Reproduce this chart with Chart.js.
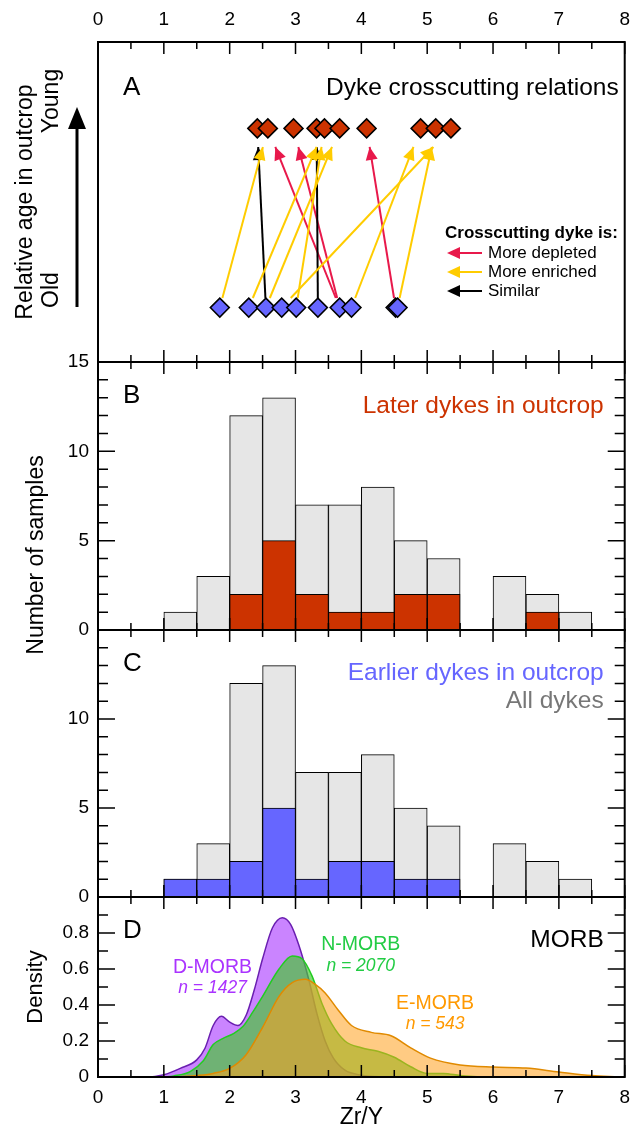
<!DOCTYPE html>
<html>
<head>
<meta charset="utf-8">
<script src="https://cdn.jsdelivr.net/npm/chart.js@4.4.1/dist/chart.umd.min.js"></script>
<style>
  html, body { margin: 0; padding: 0; background: #fff; }
  #wrap { width: 641px; height: 1132px; }
</style>
</head>
<body>
<div id="wrap"><canvas id="c" width="641" height="1132"></canvas></div>
<script>
// ---- panel A: Zr/Y of dykes in crosscutting pairs
const laterZrY   = [2.42, 2.58, 2.97, 3.32, 3.44, 3.67, 4.08, 4.90, 5.13, 5.36];
const earlierZrY = [1.85, 2.29, 2.55, 2.79, 3.01, 3.34, 3.67, 3.85, 4.52, 4.55];
// each arrow: earlier dyke (index) -> later dyke (index)
const arrowFrom = [0, 1, 2, 2, 3, 4, 5, 6, 6, 7, 8, 9];
const arrowTo   = [1, 4, 0, 5, 9, 4, 3, 1, 2, 7, 6, 8];
const arrowKind = ['enr', 'enr', 'sim', 'enr', 'enr', 'enr', 'sim', 'dep', 'dep', 'enr', 'dep', 'enr'];

// ---- panels B, C: histograms (bin width 0.5)
const binCentres   = [1.25, 1.75, 2.25, 2.75, 3.25, 3.75, 4.25, 4.75, 5.25, 5.75, 6.25, 6.75, 7.25];
const allDykes     = [1, 3, 12, 13, 7, 7, 8, 5, 4, 0, 3, 2, 1];
const laterDykes   = [0, 0, 2, 5, 2, 1, 1, 2, 2, 0, 0, 1, 0];
const earlierDykes = [1, 1, 2, 5, 1, 2, 2, 1, 1, 0, 0, 0, 0];

// ---- panel D: MORB density curves
const dmorbX = [0.8, 1.0, 1.25, 1.5, 1.625, 1.75, 1.875, 2.0, 2.125, 2.25, 2.375, 2.5, 2.65, 2.8, 2.925, 3.05, 3.2, 3.325, 3.45, 3.575, 3.75, 4.0, 4.4];
const dmorbY = [0, 0.012, 0.048, 0.095, 0.16, 0.286, 0.337, 0.305, 0.286, 0.343, 0.486, 0.657, 0.829, 0.885, 0.848, 0.733, 0.543, 0.352, 0.2, 0.105, 0.038, 0.01, 0];
const nmorbX = [1.0, 1.15, 1.4, 1.6, 1.75, 1.9, 2.05, 2.2, 2.35, 2.5, 2.75, 2.95, 3.1, 3.25, 3.4, 3.55, 3.75, 4.0, 4.25, 4.5, 4.75, 5.0, 5.25, 5.5, 5.8];
const nmorbY = [0, 0.006, 0.03, 0.09, 0.18, 0.215, 0.24, 0.28, 0.36, 0.448, 0.6, 0.672, 0.657, 0.562, 0.41, 0.295, 0.2, 0.162, 0.143, 0.11, 0.057, 0.02, 0.02, 0.008, 0];
const emorbX = [1.2, 1.5, 1.75, 2.0, 2.25, 2.5, 2.75, 2.95, 3.15, 3.3, 3.45, 3.65, 3.85, 4.15, 4.45, 4.75, 5.05, 5.5, 6.0, 6.5, 7.0, 7.5, 7.9];
const emorbY = [0, 0.008, 0.02, 0.048, 0.124, 0.276, 0.448, 0.524, 0.543, 0.514, 0.467, 0.371, 0.286, 0.248, 0.229, 0.162, 0.105, 0.067, 0.055, 0.05, 0.028, 0.008, 0];

const xTickLabels = [0, 1, 2, 3, 4, 5, 6, 7, 8];

const FONT = "'Liberation Sans', Arial, sans-serif";
const RED = '#cc3300', BLUE = '#6666ff', GREY = '#e6e6e6';
const ARROW_COLORS = { dep: '#e8194b', enr: '#ffcc00', sim: '#000000' };
const OLD_Y = 1.7, YOUNG_Y = 7.3;          // rows on the 0-10 axis of panel A
const TRIM_START = 0.3, TRIM_END = 0.58;  // keep arrows off the diamonds

const arrowSets = arrowFrom.map((fi, k) => {
  const x0 = earlierZrY[fi], x1 = laterZrY[arrowTo[k]];
  const span = YOUNG_Y - OLD_Y;
  const t0 = TRIM_START / span, t1 = 1 - TRIM_END / span;
  return {
    type: 'line', xAxisID: 'x', yAxisID: 'yA', arrow: true,
    data: [
      { x: x0 + (x1 - x0) * t0, y: OLD_Y + TRIM_START },
      { x: x0 + (x1 - x0) * t1, y: YOUNG_Y - TRIM_END }
    ],
    borderColor: ARROW_COLORS[arrowKind[k]], borderWidth: 2, pointRadius: 0, fill: false
  };
});

const toPts = (xs, ys) => xs.map((x, i) => ({ x, y: ys[i] }));
const toBars = vals => binCentres.map((x, i) => ({ x, y: vals[i] ? vals[i] : null }));

const barStyle = {
  type: 'bar', xAxisID: 'x', borderColor: '#000', borderWidth: 1, borderSkipped: false,
  grouped: false, barPercentage: 1, categoryPercentage: 1
};
const curveStyle = {
  type: 'line', xAxisID: 'x', yAxisID: 'yD', fill: 'origin', borderWidth: 1.5,
  pointRadius: 0, cubicInterpolationMode: 'monotone'
};

// first dataset is drawn on top
const datasets = [
  { type: 'scatter', xAxisID: 'x', yAxisID: 'yA', data: laterZrY.map(x => ({ x, y: YOUNG_Y })),
    pointStyle: 'rectRot', pointRadius: 9.5, backgroundColor: RED, borderColor: '#000', borderWidth: 1.5 },
  { type: 'scatter', xAxisID: 'x', yAxisID: 'yA', data: earlierZrY.map(x => ({ x, y: OLD_Y })),
    pointStyle: 'rectRot', pointRadius: 9.5, backgroundColor: BLUE, borderColor: '#000', borderWidth: 1.5 },
  ...arrowSets,
  { ...barStyle, yAxisID: 'yB', data: toBars(laterDykes), backgroundColor: RED },
  { ...barStyle, yAxisID: 'yB', data: toBars(allDykes), backgroundColor: GREY },
  { ...barStyle, yAxisID: 'yC', data: toBars(earlierDykes), backgroundColor: BLUE },
  { ...barStyle, yAxisID: 'yC', data: toBars(allDykes), backgroundColor: GREY },
  { ...curveStyle, data: toPts(emorbX, emorbY), borderColor: '#e08a00', backgroundColor: 'rgba(255,160,30,0.55)' },
  { ...curveStyle, data: toPts(nmorbX, nmorbY), borderColor: '#22cc22', backgroundColor: 'rgba(70,200,50,0.68)' },
  { ...curveStyle, data: toPts(dmorbX, dmorbY), borderColor: '#6a1fb0', backgroundColor: 'rgba(180,80,255,0.7)' }
];

const tickFont = { family: FONT, size: 19 };
const yScale = (weight, stackWeight, extra) => Object.assign({
  type: 'linear', position: 'left', stack: 'panels', weight, stackWeight,
  grid: { display: false, drawTicks: false }, border: { display: false },
  afterFit: s => { s.width = 98; }
}, extra);
const xScale = (position, height, padding) => ({
  type: 'linear', position, min: 0, max: 8, offset: false,
  grid: { display: false, drawTicks: false }, border: { display: false },
  ticks: { stepSize: 1, padding, color: '#000', font: tickFont, autoSkip: false,
    callback: v => xTickLabels.includes(v) ? String(v) : '' },
  afterFit: s => { s.height = height; }
});

// inward tick marks for each panel
const panelTicks = { yA: null, yB: { minor: 1, major: 5 }, yC: { minor: 1, major: 5 }, yD: { minor: 0.1, major: 0.2 } };

const framesPlugin = {
  id: 'frames',
  afterDatasetDraw(chart, args) {
    const ds = chart.data.datasets[args.index];
    if (!ds.arrow) return;
    const [p0, p1] = args.meta.data;
    drawHead(chart.ctx, p0.x, p0.y, p1.x, p1.y, ds.borderColor, 13, 6);
  },
  afterDatasetsDraw(chart) {
    const { ctx, chartArea: ca, scales } = chart;
    const x = scales.x;
    ctx.save();
    ctx.strokeStyle = '#000';
    ['yA', 'yB', 'yC', 'yD'].forEach(id => {
      const s = scales[id];
      ctx.lineWidth = 1.5;
      ctx.beginPath();
      for (let i = 0; i <= 16; i++) {
        const px = x.getPixelForValue(i * 0.5);
        const len = i % 2 === 0 ? 12 : 7;
        ctx.moveTo(px, s.top); ctx.lineTo(px, s.top + len);
        ctx.moveTo(px, s.bottom); ctx.lineTo(px, s.bottom - len);
      }
      const t = panelTicks[id];
      if (t) {
        const n = Math.round((s.max - s.min) / t.minor);
        const every = Math.round(t.major / t.minor);
        for (let i = 0; i <= n; i++) {
          const py = s.getPixelForValue(s.min + i * t.minor);
          const len = i % every === 0 ? 17 : 10;
          ctx.moveTo(ca.left, py); ctx.lineTo(ca.left + len, py);
          ctx.moveTo(ca.right, py); ctx.lineTo(ca.right - len, py);
        }
      }
      ctx.stroke();
      ctx.lineWidth = 2;
      ctx.strokeRect(ca.left, s.top, ca.right - ca.left, s.bottom - s.top);
    });
    ctx.restore();
  },
  afterDraw(chart) {
    const { ctx, chartArea: ca, scales } = chart;
    const { x, yA, yB, yC, yD } = scales;
    const text = (str, px, py, opts = {}) => {
      ctx.save();
      ctx.font = `${opts.style || ''} ${opts.weight || ''} ${opts.size || 24}px ${FONT}`;
      ctx.fillStyle = opts.color || '#000';
      ctx.textAlign = opts.align || 'left';
      ctx.textBaseline = 'middle';
      ctx.translate(px, py);
      if (opts.rotate) ctx.rotate(-Math.PI / 2);
      ctx.fillText(str, 0, 0);
      ctx.restore();
    };
    const letterX = ca.left + 25;
    const rightX = ca.right - 21;
    const axisTitle = { rotate: true, align: 'center', size: 23 };

    // panel A
    text('A', letterX, yA.top + 46, { size: 26 });
    text('Dyke crosscutting relations', ca.right - 6, yA.top + 46, { align: 'right', size: 24.5 });
    text('Crosscutting dyke is:', 445, 233, { size: 17, weight: 'bold' });
    [['More depleted', 'dep'], ['More enriched', 'enr'], ['Similar', 'sim']].forEach(([label, kind], i) => {
      const py = 253 + i * 19;
      ctx.save();
      ctx.strokeStyle = ARROW_COLORS[kind];
      ctx.lineWidth = 2;
      ctx.beginPath(); ctx.moveTo(482, py); ctx.lineTo(452, py); ctx.stroke();
      ctx.restore();
      drawHead(ctx, 482, py, 447, py, ARROW_COLORS[kind], 13, 6);
      text(label, 488, py, { size: 17 });
    });
    // age arrow on the left
    const midA = (yA.top + yA.bottom) / 2;
    text('Relative age in outcrop', 26, midA, axisTitle);
    text('Young', 52, 101, axisTitle);
    text('Old', 52, 290, axisTitle);
    ctx.save();
    ctx.strokeStyle = '#000'; ctx.lineWidth = 3;
    ctx.beginPath(); ctx.moveTo(77, 307); ctx.lineTo(77, 125); ctx.stroke();
    ctx.restore();
    drawHead(ctx, 77, 307, 77, 107, '#000', 22, 9);

    // panels B, C
    text('B', letterX, yB.top + 34, { size: 26 });
    text('Later dykes in outcrop', rightX, yB.top + 44, { align: 'right', size: 24.5, color: RED });
    text('C', letterX, yC.top + 34, { size: 26 });
    text('Earlier dykes in outcrop', rightX, yC.top + 43, { align: 'right', size: 24.5, color: BLUE });
    text('All dykes', rightX, yC.top + 71, { align: 'right', size: 24.5, color: '#777777' });
    text('Number of samples', 37, 555, axisTitle);

    // panel D
    text('D', letterX, yD.top + 34, { size: 26 });
    text('MORB', rightX, yD.top + 43, { align: 'right', size: 24.5 });
    text('D-MORB', x.getPixelForValue(1.74), 968, { align: 'center', size: 19.5, color: '#aa33ff' });
    text('n = 1427', x.getPixelForValue(1.74), 988, { align: 'center', size: 17.5, style: 'italic', color: '#aa33ff' });
    text('N-MORB', x.getPixelForValue(3.99), 945, { align: 'center', size: 19.5, color: '#22cc44' });
    text('n = 2070', x.getPixelForValue(3.99), 966, { align: 'center', size: 17.5, style: 'italic', color: '#22cc44' });
    text('E-MORB', x.getPixelForValue(5.12), 1004, { align: 'center', size: 19.5, color: '#ff9900' });
    text('n = 543', x.getPixelForValue(5.12), 1024, { align: 'center', size: 17.5, style: 'italic', color: '#ff9900' });
    text('Density', 36, (yD.top + yD.bottom) / 2, { ...axisTitle, size: 22 });
    text('Zr/Y', (ca.left + ca.right) / 2, 1118, { align: 'center', size: 23 });
  }
};

function drawHead(ctx, x0, y0, x1, y1, color, len, half) {
  const a = Math.atan2(y1 - y0, x1 - x0);
  const bx = x1 - Math.cos(a) * len, by = y1 - Math.sin(a) * len;
  ctx.save();
  ctx.fillStyle = color;
  ctx.beginPath();
  ctx.moveTo(x1, y1);
  ctx.lineTo(bx - Math.sin(a) * half, by + Math.cos(a) * half);
  ctx.lineTo(bx + Math.sin(a) * half, by - Math.cos(a) * half);
  ctx.closePath();
  ctx.fill();
  ctx.restore();
}

const yTicks = extra => Object.assign({ padding: 9, color: '#000', font: tickFont, autoSkip: false }, extra);

new Chart(document.getElementById('c'), {
  type: 'bar',
  data: { datasets },
  options: {
    responsive: false,
    animation: false,
    layout: { padding: { left: 0, right: 9, top: 0, bottom: 0 } },
    plugins: { legend: { display: false }, tooltip: { enabled: false } },
    scales: {
      x: xScale('bottom', 55, 9),
      x2: xScale('top', 42, 11),
      yA: yScale(4, 320, { min: 0, max: 10, ticks: { display: false } }),
      yB: yScale(3, 268, { min: 0, max: 15, ticks: yTicks({ stepSize: 5 }) }),
      yC: yScale(2, 267, { min: 0, max: 15,
        ticks: yTicks({ stepSize: 5, callback: v => v === 15 ? '' : String(v) }) }),
      yD: yScale(1, 180, { min: 0, max: 1,
        ticks: yTicks({ stepSize: 0.2, callback: v => v >= 0.999 ? '' : (v === 0 ? '0' : v.toFixed(1)) }) })
    }
  },
  plugins: [framesPlugin]
});
</script>
</body>
</html>
